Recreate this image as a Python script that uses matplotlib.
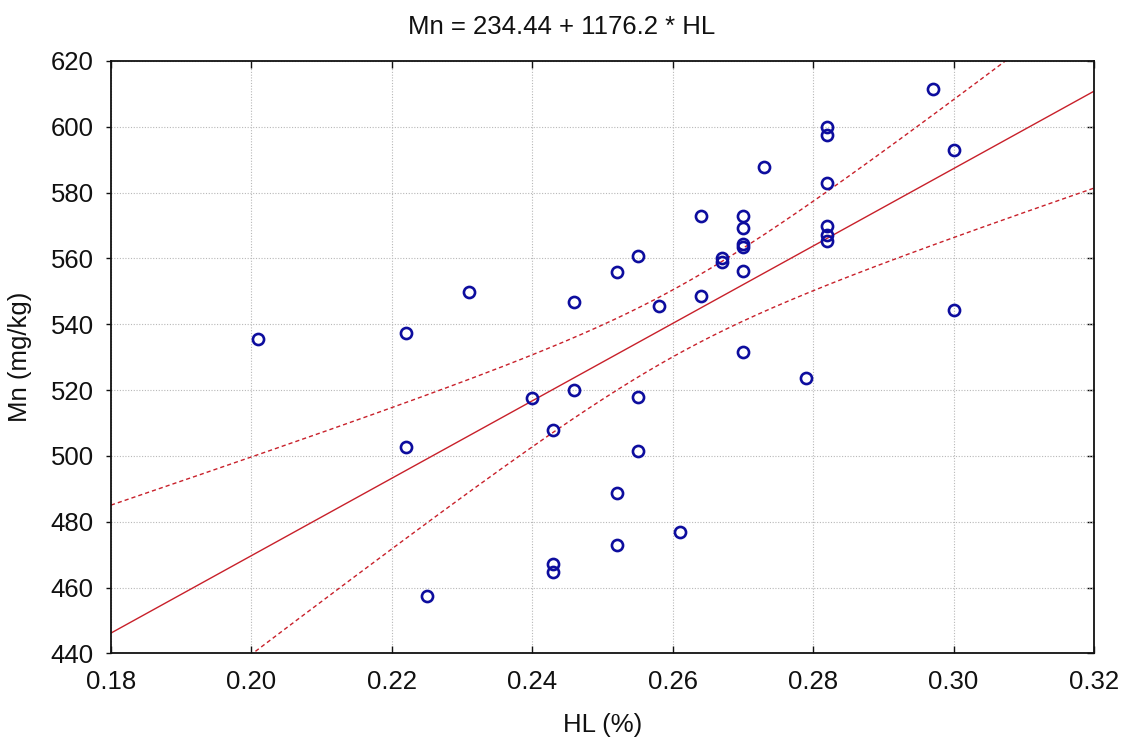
import numpy as np
import matplotlib
matplotlib.use("Agg")
import matplotlib.pyplot as plt

# Observations: humus content (HL, %) and manganese content (Mn, mg/kg)
hl = [0.201, 0.222, 0.231, 0.297, 0.282, 0.282, 0.300, 0.273, 0.282,
      0.264, 0.270, 0.270, 0.282, 0.282, 0.282, 0.270, 0.270, 0.255,
      0.267, 0.267, 0.252, 0.270, 0.246, 0.258, 0.264, 0.300, 0.270,
      0.240, 0.243, 0.222, 0.243, 0.243, 0.225, 0.246, 0.255, 0.279,
      0.255, 0.252, 0.252, 0.261]
mn = [535.4, 537.2, 549.9, 611.4, 599.9, 597.5, 593.0, 587.9, 583.0,
      573.0, 573.0, 569.2, 569.9, 567.1, 565.4, 563.5, 564.5, 560.6,
      559.0, 560.0, 555.8, 556.3, 546.7, 545.6, 548.6, 544.3, 531.6,
      517.7, 507.8, 502.6, 467.2, 464.7, 457.5, 520.0, 518.0, 523.7,
      501.5, 488.8, 472.8, 476.8]

# Fitted regression: Mn = 234.44 + 1176.2 * HL
intercept = 234.44
slope = 1176.2
t_crit = 2.024  # two-sided 95 %, n - 2 = 38 degrees of freedom

x_ticks = [0.18, 0.20, 0.22, 0.24, 0.26, 0.28, 0.30, 0.32]
y_ticks = [440, 460, 480, 500, 520, 540, 560, 580, 600, 620]

plt.rcParams["font.family"] = ["Liberation Sans", "DejaVu Sans"]

fig = plt.figure(figsize=(11.23, 7.42), dpi=100)
ax = fig.add_axes([0.0988, 0.1195, 0.8754, 0.7983])

x = np.asarray(hl)
y = np.asarray(mn)
n = len(x)
resid = y - (intercept + slope * x)
s = np.sqrt(np.sum(resid ** 2) / (n - 2))
sxx = np.sum((x - x.mean()) ** 2)

xs = np.linspace(x_ticks[0], x_ticks[-1], 300)
fit = intercept + slope * xs
half = t_crit * s * np.sqrt(1.0 / n + (xs - x.mean()) ** 2 / sxx)

line_red = "#c8202a"
ax.plot(xs, fit, color=line_red, lw=1.0, zorder=2)
ax.plot(xs, fit + half, color=line_red, lw=1.0, ls=(0, (3, 2.2)), zorder=2)
ax.plot(xs, fit - half, color=line_red, lw=1.0, ls=(0, (3, 2.2)), zorder=2)

ax.plot(x, y, ls="none", marker="o", markersize=8.0, markerfacecolor="none",
        markeredgecolor="#0d0d9e", markeredgewidth=1.9, zorder=3)

ax.set_xlim(x_ticks[0], x_ticks[-1])
ax.set_ylim(y_ticks[0], y_ticks[-1])
ax.set_xticks(x_ticks)
ax.set_yticks(y_ticks)
ax.set_xticklabels([f"{v:.2f}" for v in x_ticks])
ax.set_yticklabels([str(v) for v in y_ticks])

ax.grid(True, color="#b8b8b8", ls=(0, (1, 1.5)), lw=0.8)
ax.set_axisbelow(True)

for sp in ax.spines.values():
    sp.set_linewidth(1.3)
    sp.set_color("#111111")

ax.tick_params(axis="x", which="both", direction="in", length=5, width=1,
               top=True, labelsize=18.5, pad=12, colors="#111111")
ax.tick_params(axis="y", which="both", direction="out", length=3.5, width=1,
               right=False, labelsize=18.5, pad=9, colors="#111111")
# inward ticks on the right-hand frame
ax_r = ax.secondary_yaxis("right")
ax_r.set_yticks(y_ticks)
ax_r.tick_params(direction="in", length=5, width=1, labelright=False)
ax_r.spines["right"].set_visible(False)

ax.set_xlabel("HL (%)", fontsize=18.5, color="#111111")
ax.xaxis.set_label_coords(0.5, -0.121)
ax.xaxis.label.set_va("center")
ax.set_ylabel("Mn (mg/kg)", fontsize=18.5, color="#111111")
ax.yaxis.set_label_coords(-0.0926, 0.5)
ax.yaxis.label.set_va("center")

fig.text(0.5, 1 - 27 / 742, "Mn = 234.44 + 1176.2 * HL", ha="center",
         va="center", fontsize=18.5, color="#111111")

fig.savefig("out.png", dpi=100, facecolor="white")
